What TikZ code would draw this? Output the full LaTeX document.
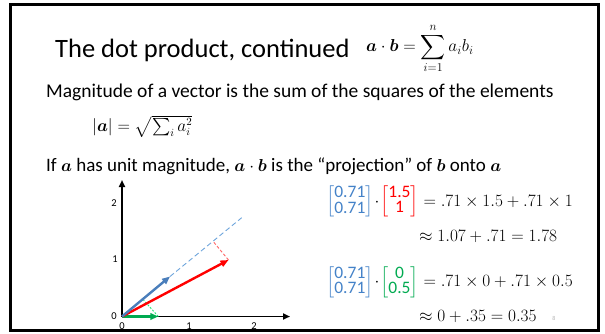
\documentclass[tikz,border=0pt]{standalone}
\usepackage{amsmath,bm}
\usepackage[no-math]{fontspec}
\setmainfont{Carlito}
\usetikzlibrary{arrows.meta}
\definecolor{vblue}{RGB}{74,126,187}
\definecolor{lblue}{RGB}{110,165,220}
\definecolor{mblue}{RGB}{68,130,200}
\definecolor{vgreen}{RGB}{0,170,80}
\definecolor{lgreen}{RGB}{40,230,120}
\definecolor{lred}{RGB}{255,100,100}
\newcommand{\colvec}[3]{{\color{#1}\renewcommand{\arraystretch}{0.72}\left[\begin{array}{@{}c@{}}\text{\fontsize{17.5}{21}\selectfont #2}\\\text{\fontsize{17.5}{21}\selectfont #3}\end{array}\right]}}
\tikzset{
  txt/.style={anchor=base west,inner sep=0pt},
  eqn/.style={anchor=base west,inner sep=0pt,font=\fontsize{16}{19}\selectfont},
  tick/.style={inner sep=0pt,font=\fontsize{10.5}{12}\selectfont},
  axis/.style={line width=1.8pt,-{Triangle[length=7pt,width=6pt]}},
  vec/.style={line width=2.4pt,-{Triangle[length=8pt,width=6.5pt]}},
}
\begin{document}
\begin{tikzpicture}[x=1pt,y=-1pt]
\useasboundingbox (0,0) rectangle (605,333);
\draw[line width=3pt] (10,4) rectangle (598.5,330.5);
% texts
\node[txt,font=\fontsize{26.5}{30}\selectfont] (title) at (55,57.3) {The dot product, continued};
\node[txt,font=\fontsize{17.5}{20}\selectfont] (f1) at (366,51.7) {$\bm{a}\cdot\bm{b}=\displaystyle\sum_{i=1}^{n}a_ib_i$};
\node[txt,font=\fontsize{19.5}{23}\selectfont] (mag) at (46,97.3) {Magnitude of a vector is the sum of the squares of the elements};
\node[txt,font=\fontsize{16}{20}\selectfont] (f2) at (92,131.7) {$|\bm{a}|=\sqrt{\sum\nolimits_i a_i^2}$};
\node[txt,font=\fontsize{19}{23}\selectfont] (ifl) at (46,171.7) {If $\bm{a}$ has unit magnitude, $\bm{a}\cdot\bm{b}$ is the “projection” of $\bm{b}$ onto $\bm{a}$};
% plot
\coordinate (O) at (122,316.5);
\coordinate (yend) at (122,180);
\coordinate (xend) at (290,316.5);
\coordinate (bt) at (170,276.5);
\coordinate (dend) at (241.7,217.7);
\coordinate (rt) at (228.5,260);
\coordinate (rp) at (212.8,241);
\coordinate (gt) at (158.3,316.5);
\coordinate (gp) at (143,299.5);
\draw[axis] (O) -- (yend);
\draw[axis] (O) -- (xend);
\node[tick] (y0) at (114,316) {0};
\node[tick] (y1) at (115,259) {1};
\node[tick] (y2) at (114,203) {2};
\node[tick] (x0) at (122,326.5) {0};
\node[tick] (x1) at (189,326.5) {1};
\node[tick] (x2) at (254,326.5) {2};
\draw[lblue,line width=0.9pt,dash pattern=on 5pt off 3pt] (bt) -- (dend);
\draw[lred,line width=0.9pt,dash pattern=on 3pt off 2pt] (rt) -- (rp);
\draw[lgreen,line width=0.9pt,dash pattern=on 2pt off 1.5pt] (gt) -- (gp);
\draw[vec,vgreen] (O) -- (gt);
\draw[vec,red] (O) -- (rt);
\draw[vec,vblue] (O) -- (bt);
% equations
\node[eqn] (e1) at (326,206) {$\colvec{mblue}{0.71}{0.71}\!\cdot\!\colvec{red}{1.5}{1} = .71\times 1.5+.71\times 1$};
\node[eqn] (e2) at (419,241) {$\approx 1.07+.71=1.78$};
\node[eqn] (e3) at (326,286.7) {$\colvec{mblue}{0.71}{0.71}\!\cdot\!\colvec{vgreen}{0}{0.5} = .71\times 0+.71\times 0.5$};
\node[eqn] (e4) at (419,321.7) {$\approx 0+.35=0.35$};
\node[font=\fontsize{6}{7}\selectfont,text=gray!60,inner sep=0pt] (pg) at (554,318) {8};
\end{tikzpicture}
\end{document}
